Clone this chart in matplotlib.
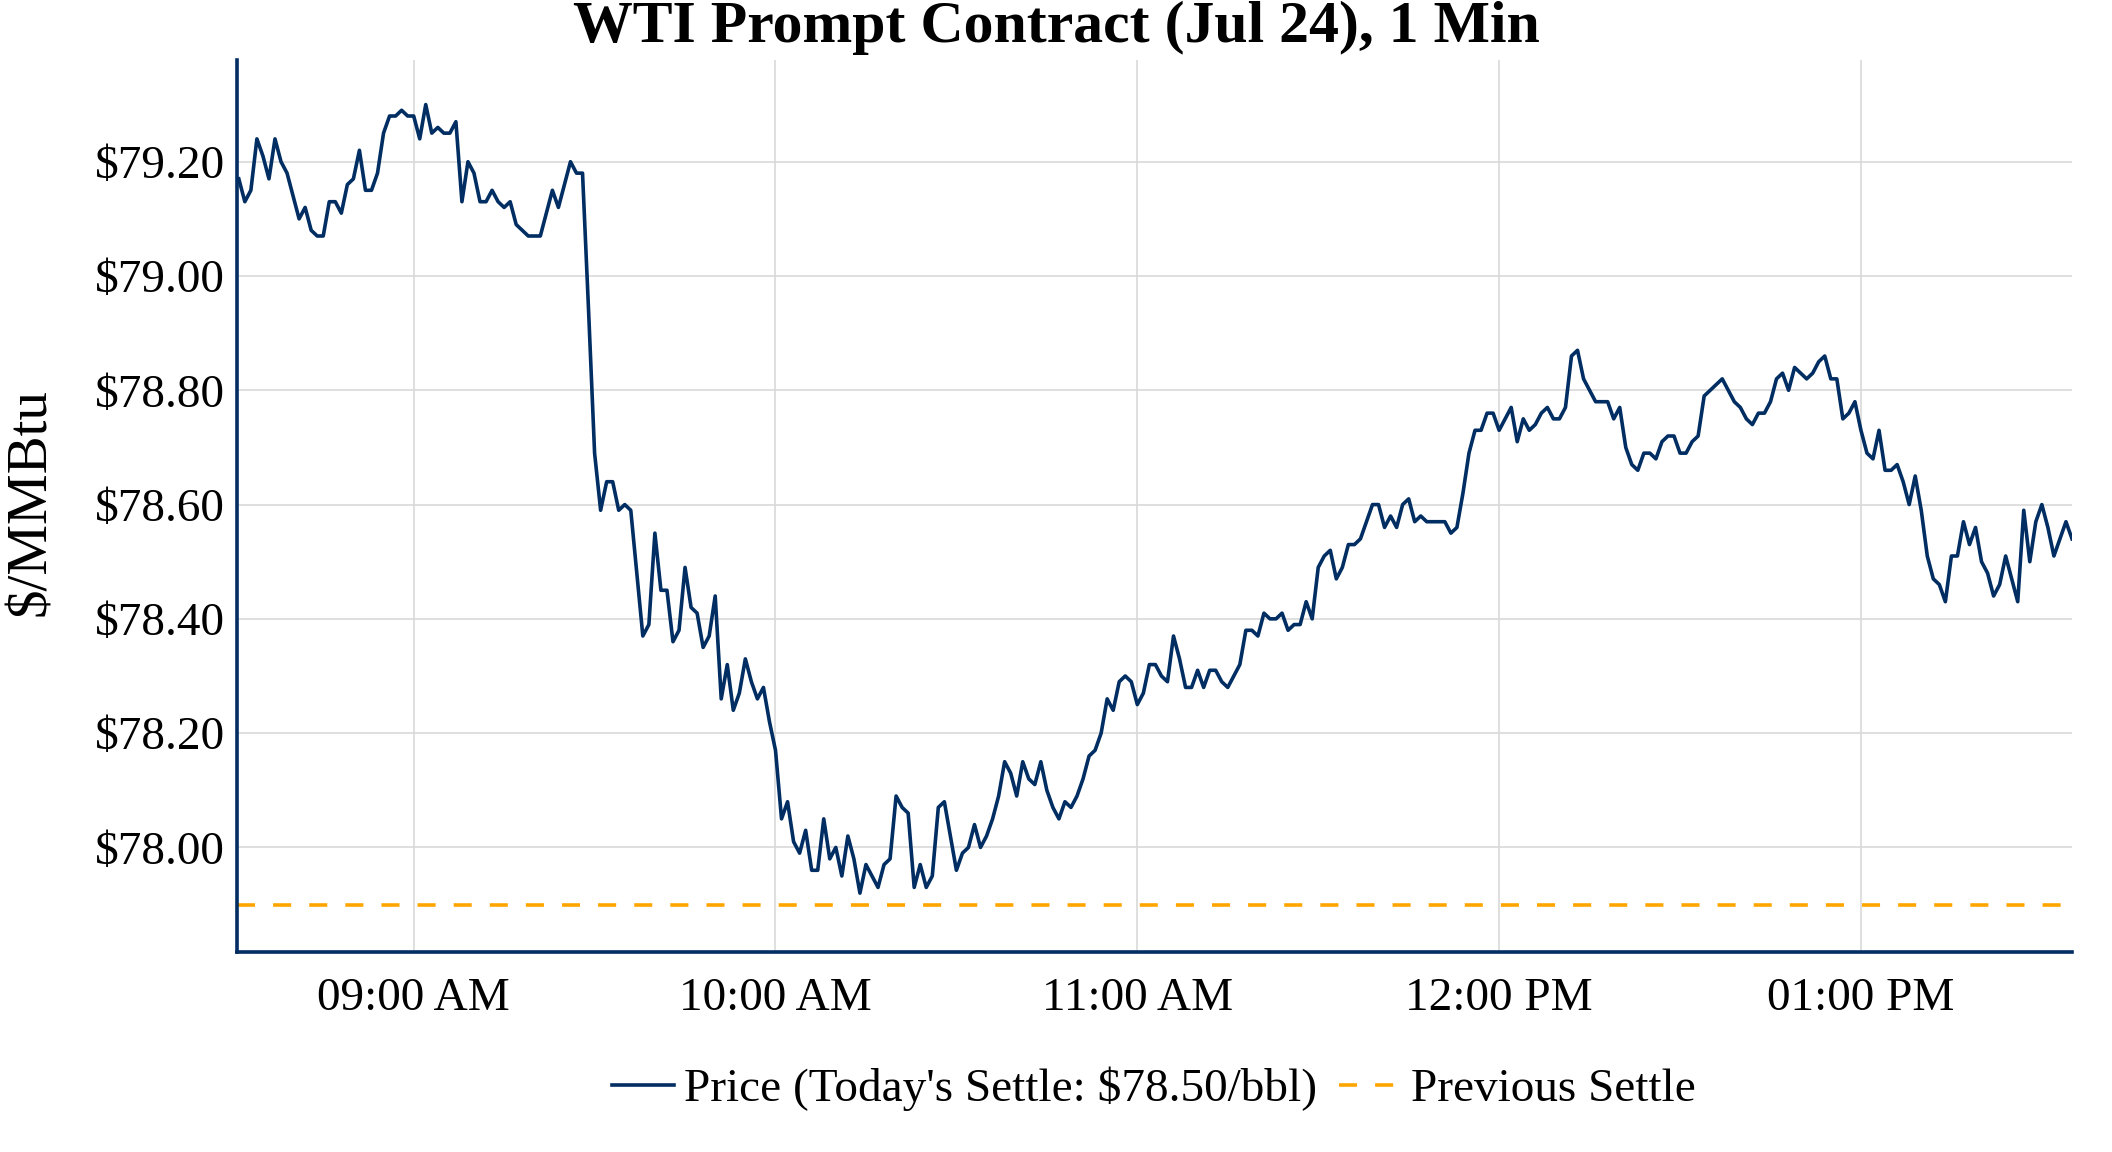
import matplotlib
matplotlib.use("Agg")
import matplotlib.pyplot as plt
import matplotlib.dates as mdates
import pandas as pd

# ---- data ----
start_time = "2024-06-13 08:31"
prices = [
    79.17, 79.13, 79.15, 79.24, 79.21, 79.17, 79.24, 79.20, 79.18, 79.14,
    79.10, 79.12, 79.08, 79.07, 79.07, 79.13, 79.13, 79.11, 79.16, 79.17,
    79.22, 79.15, 79.15, 79.18, 79.25, 79.28, 79.28, 79.29, 79.28, 79.28,
    79.24, 79.30, 79.25, 79.26, 79.25, 79.25, 79.27, 79.13, 79.20, 79.18,
    79.13, 79.13, 79.15, 79.13, 79.12, 79.13, 79.09, 79.08, 79.07, 79.07,
    79.07, 79.11, 79.15, 79.12, 79.16, 79.20, 79.18, 79.18, 78.94, 78.69,
    78.59, 78.64, 78.64, 78.59, 78.60, 78.59, 78.48, 78.37, 78.39, 78.55,
    78.45, 78.45, 78.36, 78.38, 78.49, 78.42, 78.41, 78.35, 78.37, 78.44,
    78.26, 78.32, 78.24, 78.27, 78.33, 78.29, 78.26, 78.28, 78.22, 78.17,
    78.05, 78.08, 78.01, 77.99, 78.03, 77.96, 77.96, 78.05, 77.98, 78.00,
    77.95, 78.02, 77.98, 77.92, 77.97, 77.95, 77.93, 77.97, 77.98, 78.09,
    78.07, 78.06, 77.93, 77.97, 77.93, 77.95, 78.07, 78.08, 78.02, 77.96,
    77.99, 78.00, 78.04, 78.00, 78.02, 78.05, 78.09, 78.15, 78.13, 78.09,
    78.15, 78.12, 78.11, 78.15, 78.10, 78.07, 78.05, 78.08, 78.07, 78.09,
    78.12, 78.16, 78.17, 78.20, 78.26, 78.24, 78.29, 78.30, 78.29, 78.25,
    78.27, 78.32, 78.32, 78.30, 78.29, 78.37, 78.33, 78.28, 78.28, 78.31,
    78.28, 78.31, 78.31, 78.29, 78.28, 78.30, 78.32, 78.38, 78.38, 78.37,
    78.41, 78.40, 78.40, 78.41, 78.38, 78.39, 78.39, 78.43, 78.40, 78.49,
    78.51, 78.52, 78.47, 78.49, 78.53, 78.53, 78.54, 78.57, 78.60, 78.60,
    78.56, 78.58, 78.56, 78.60, 78.61, 78.57, 78.58, 78.57, 78.57, 78.57,
    78.57, 78.55, 78.56, 78.62, 78.69, 78.73, 78.73, 78.76, 78.76, 78.73,
    78.75, 78.77, 78.71, 78.75, 78.73, 78.74, 78.76, 78.77, 78.75, 78.75,
    78.77, 78.86, 78.87, 78.82, 78.80, 78.78, 78.78, 78.78, 78.75, 78.77,
    78.70, 78.67, 78.66, 78.69, 78.69, 78.68, 78.71, 78.72, 78.72, 78.69,
    78.69, 78.71, 78.72, 78.79, 78.80, 78.81, 78.82, 78.80, 78.78, 78.77,
    78.75, 78.74, 78.76, 78.76, 78.78, 78.82, 78.83, 78.80, 78.84, 78.83,
    78.82, 78.83, 78.85, 78.86, 78.82, 78.82, 78.75, 78.76, 78.78, 78.73,
    78.69, 78.68, 78.73, 78.66, 78.66, 78.67, 78.64, 78.60, 78.65, 78.59,
    78.51, 78.47, 78.46, 78.43, 78.51, 78.51, 78.57, 78.53, 78.56, 78.50,
    78.48, 78.44, 78.46, 78.51, 78.47, 78.43, 78.59, 78.50, 78.57, 78.60,
    78.56, 78.51, 78.54, 78.57, 78.54,
]
previous_settle = 77.90
todays_settle = 78.50
y_ticks = [78.00, 78.20, 78.40, 78.60, 78.80, 79.00, 79.20]
tick_hours = ["09:00", "10:00", "11:00", "12:00", "13:00"]

times = pd.date_range(start=start_time, periods=len(prices), freq="min")
day = start_time.split(" ")[0]

plt.rcParams['font.family'] = ['Liberation Serif', 'DejaVu Serif']

NAVY = "#002d62"
ORANGE = "#ffa500"
LW = 2.6

fig = plt.figure(figsize=(21.12, 11.52), dpi=100)
ax = fig.add_axes([237 / 2112, 1 - 952 / 1152, (2072 - 237) / 2112, (952 - 60) / 1152])

ax.plot(times, prices, color=NAVY, lw=LW, zorder=3,
        label=f"Price (Today's Settle: ${todays_settle:.2f}/bbl)")
ax.axhline(previous_settle, color=ORANGE, lw=LW, ls=(0, (5, 5)), zorder=2,
           label="Previous Settle")

ax.set_xlim(pd.Timestamp(start_time) - pd.Timedelta(seconds=18), times[-1])
ax.set_ylim(77.817, 79.378)

ax.set_yticks(y_ticks)
ax.set_yticklabels([f"${v:.2f}" for v in y_ticks])
ax.set_xticks([pd.Timestamp(f"{day} {h}") for h in tick_hours])
ax.xaxis.set_major_formatter(mdates.DateFormatter("%I:%M %p"))

ax.grid(True, color="#d9d9d9", lw=1.2, zorder=0)
ax.set_axisbelow(True)
for s in ["top", "right"]:
    ax.spines[s].set_visible(False)
for s in ["left", "bottom"]:
    ax.spines[s].set_color(NAVY)
    ax.spines[s].set_linewidth(LW)
ax.tick_params(axis="both", length=0, labelsize=34)
ax.tick_params(axis="x", pad=18)
ax.tick_params(axis="y", pad=8.5)

fig.text(0.5, 1 - 42 / 1152, "WTI Prompt Contract (Jul 24), 1 Min",
         ha="center", va="baseline", fontsize=43, fontweight="bold")
fig.text(31 / 2112, 1 - 502 / 1152, "$/MMBtu", rotation=90,
         ha="center", va="center", fontsize=41)

fig.legend(loc="center", bbox_to_anchor=(1154 / 2112, 1 - 1089 / 1152), ncol=2,
           frameon=False, fontsize=34, handlelength=1.3, handletextpad=0.23,
           columnspacing=0.45)

fig.savefig("out.png", dpi=100)
